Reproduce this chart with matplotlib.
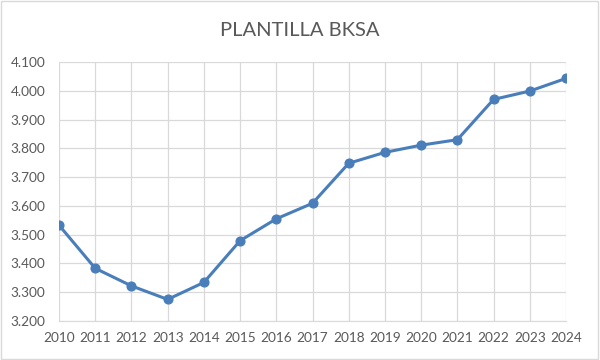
import matplotlib.pyplot as plt
from matplotlib.ticker import FuncFormatter, MultipleLocator
from matplotlib.patches import Rectangle

# Datos de la plantilla por año
anios = [2010, 2011, 2012, 2013, 2014, 2015, 2016, 2017, 2018, 2019, 2020, 2021, 2022, 2023, 2024]
plantilla = [3533, 3383, 3322, 3275, 3334, 3479, 3555, 3609, 3748, 3786, 3811, 3830, 3970, 3999, 4043]

plt.rcParams['font.family'] = ['Lato', 'DejaVu Sans']
gris = '#595959'
azul = '#4A7EBB'

fig = plt.figure(figsize=(6, 3.6), dpi=100)
ax = fig.add_axes([59 / 600, 1 - 321 / 360, (566 - 59) / 600, (321 - 62) / 360])

ax.plot(anios, plantilla, color=azul, linewidth=2.2, marker='o', markersize=6.3, zorder=3)

ax.set_xlim(2010, 2024)
ax.set_ylim(3200, 4100)
ax.xaxis.set_major_locator(MultipleLocator(1))
ax.yaxis.set_major_locator(MultipleLocator(100))
ax.yaxis.set_major_formatter(FuncFormatter(lambda v, p: f'{v / 1000:.3f}'))

ax.grid(True, color='#d9d9d9', linewidth=0.9)
ax.set_axisbelow(True)
for lado in ['top', 'right', 'left']:
    ax.spines[lado].set_visible(False)
ax.spines['bottom'].set_color('#d9d9d9')
ax.tick_params(length=0, labelsize=9.8, colors=gris, pad=8)
ax.tick_params(axis='y', pad=10)

fig.text(0.5, 1 - 30 / 360, 'PLANTILLA BKSA', ha='center', va='center', fontsize=14.5, color=gris)

# Borde del gráfico
fig.patches.append(Rectangle((0.002, 0.003), 0.995, 0.993, transform=fig.transFigure,
                             fill=False, edgecolor='#d9d9d9', linewidth=1))

fig.savefig('out.png', dpi=100)
